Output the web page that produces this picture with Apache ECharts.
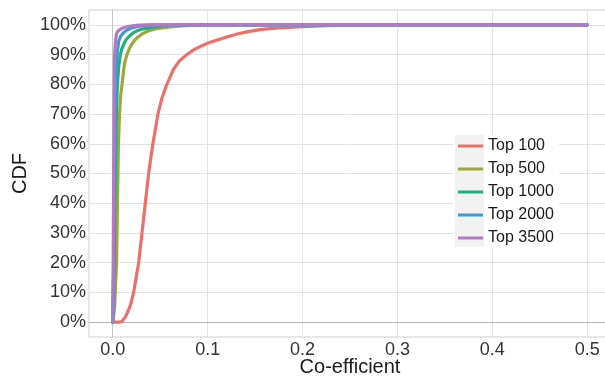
<!DOCTYPE html>
<html><head><meta charset="utf-8">
<script src="https://cdn.jsdelivr.net/npm/echarts@6/dist/echarts.min.js"></script>
<style>html,body{margin:0;padding:0;background:#fff}#c{width:605px;height:377px}</style>
</head><body><div id="c"></div>
<script>
var seriesNames = ['Top 100', 'Top 500', 'Top 1000', 'Top 2000', 'Top 3500'];
var top100X = [0, 0.007, 0.0095, 0.0115, 0.0133, 0.0155, 0.0186, 0.022, 0.0273, 0.0308, 0.0343, 0.0378, 0.0423, 0.0476, 0.052, 0.057, 0.064, 0.07, 0.078, 0.086, 0.094, 0.102, 0.111, 0.121, 0.132, 0.144, 0.157, 0.175, 0.2, 0.225, 0.25, 0.3, 0.5];
var top100Y = [0, 0, 0.2, 0.7, 1.7, 3.3, 5.6, 10, 20, 30, 40, 50, 60, 70, 75.5, 80, 85, 87.8, 90, 91.7, 93, 94.1, 95, 96, 97, 97.8, 98.5, 99, 99.4, 99.7, 99.9, 100, 100];
var top500X = [0, 0.002, 0.004, 0.005, 0.006, 0.0068, 0.0075, 0.0085, 0.0098, 0.0116, 0.013, 0.015, 0.0175, 0.020, 0.0235, 0.027, 0.032, 0.038, 0.045, 0.052, 0.065, 0.08, 0.1, 0.12, 0.5];
var top500Y = [0, 5, 20, 40, 60, 67, 72, 76.5, 80, 85, 87.8, 90, 92, 93.5, 95, 96, 97.2, 98, 98.6, 99, 99.5, 99.8, 99.95, 100, 100];
var top1000X = [0, 0.001, 0.002, 0.003, 0.0039, 0.0049, 0.0063, 0.008, 0.0097, 0.0116, 0.014, 0.0168, 0.021, 0.0256, 0.031, 0.038, 0.046, 0.055, 0.08, 0.5];
var top1000Y = [0, 10, 30, 55, 70, 80, 86, 90, 92, 93.5, 95, 96, 97.2, 98, 98.6, 99, 99.4, 99.7, 100, 100];
var top2000X = [0, 0, 0.001, 0.002, 0.003, 0.0046, 0.0063, 0.0085, 0.0116, 0.015, 0.020, 0.026, 0.034, 0.05, 0.5];
var top2000Y = [0, 3, 20, 55, 80, 90, 94.5, 96.3, 97.4, 98.3, 99, 99.5, 99.8, 100, 100];
var top3500X = [0, 0.0005, 0.001, 0.0015, 0.002, 0.003, 0.004, 0.0055, 0.008, 0.012, 0.017, 0.027, 0.04, 0.5];
var top3500Y = [0, 20, 50, 75, 90, 95, 97, 97.9, 98.5, 99.1, 99.5, 99.9, 100, 100];
var xTicks = [0, 0.1, 0.2, 0.3, 0.4, 0.5];
var yTicks = [0, 10, 20, 30, 40, 50, 60, 70, 80, 90, 100];
var colors = ['#EE6F68', '#9EA83A', '#25AE7A', '#3D9AD8', '#B478C6'];

function pairs(xs, ys) { return xs.map(function (x, i) { return [x, ys[i]]; }); }
var allX = [top100X, top500X, top1000X, top2000X, top3500X];
var allY = [top100Y, top500Y, top1000Y, top2000Y, top3500Y];

var chart = echarts.init(document.getElementById('c'), null, {renderer: 'canvas'});
var font = 'Liberation Sans, Arial, Helvetica, sans-serif';
chart.setOption({
  animation: false,
  color: colors,
  grid: {left: 89, right: -6, top: 10, bottom: 40, outerBoundsMode: 'none', containLabel: false,
    show: true, borderColor: '#cfcfcf', borderWidth: 1, backgroundColor: '#fff'},
  xAxis: {
    type: 'value', min: -0.025, max: 0.525,
    name: 'Co-efficient', nameLocation: 'middle', nameGap: 20, nameMoveOverlap: false,
    nameTextStyle: {fontFamily: font, fontSize: 20, color: '#1a1a1a'},
    axisLine: {show: true, lineStyle: {color: '#b5b5b5', width: 1}},
    axisTick: {show: false, customValues: xTicks},
    axisLabel: {customValues: xTicks, fontFamily: font, fontSize: 18, color: '#333333', margin: 4,
      formatter: function (v) { return v.toFixed(1); }},
    splitLine: {show: true, lineStyle: {color: '#e3e3e3', width: 1}}
  },
  yAxis: {
    type: 'value', min: -5, max: 105,
    name: 'CDF', nameLocation: 'middle', nameGap: 59, nameRotate: 90, nameMoveOverlap: false,
    nameTextStyle: {fontFamily: font, fontSize: 20, color: '#1a1a1a'},
    axisLine: {show: true, lineStyle: {color: '#c5c5c5', width: 1}},
    axisTick: {show: false, customValues: yTicks},
    axisLabel: {customValues: yTicks, fontFamily: font, fontSize: 18, color: '#333333', margin: 3,
      formatter: function (v) { return v + '%'; }},
    splitLine: {show: true, lineStyle: {color: '#e3e3e3', width: 1}}
  },
  legend: {
    orient: 'vertical', left: 455, top: 136,
    data: seriesNames,
    icon: 'rect',
    itemWidth: 25, itemHeight: 3, itemGap: 5, padding: [1, 3],
    textStyle: {fontFamily: font, fontSize: 16, lineHeight: 18, color: '#1a1a1a', padding: [0, 0, 0, 0]}
  },
  graphic: [
    {type: 'rect', z: 3, shape: {x: 453, y: 134, width: 106, height: 114}, style: {fill: '#ffffff'}},
    {type: 'rect', z: 3, shape: {x: 455, y: 135, width: 29, height: 112}, style: {fill: '#f2f2f2'}}
  ],
  series: seriesNames.map(function (n, i) {
    return {
      name: n, type: 'line', symbol: 'none', smooth: false,
      lineStyle: {width: 3.2, color: colors[i], join: 'round', cap: 'round'},
      data: pairs(allX[i], allY[i]),
      z: 2 + i * 0.01
    };
  })
});
</script></body></html>
